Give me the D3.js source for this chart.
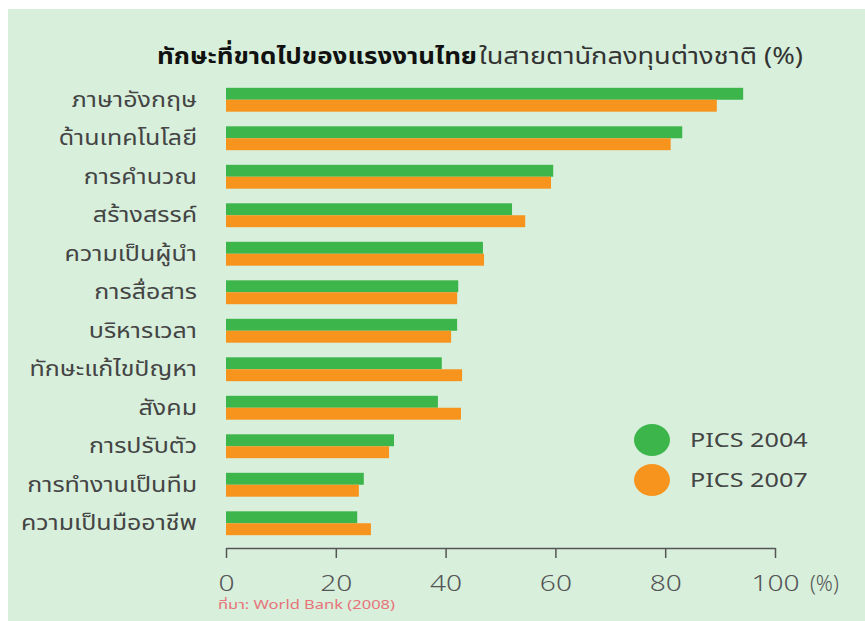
<!DOCTYPE html>
<html>
<head>
<meta charset="utf-8">
<script src="https://cdn.jsdelivr.net/npm/d3@7"></script>
<style>
  body { margin: 0; background: #fff; }
  text { font-family: "Noto Sans Thai", "Noto Sans", "DejaVu Sans", sans-serif; }
</style>
</head>
<body>
<div id="chart"></div>
<script>
const skills = ["ภาษาอังกฤษ", "ด้านเทคโนโลยี", "การคำนวณ", "สร้างสรรค์", "ความเป็นผู้นำ",
  "การสื่อสาร", "บริหารเวลา", "ทักษะแก้ไขปัญหา", "สังคม", "การปรับตัว",
  "การทำงานเป็นทีม", "ความเป็นมืออาชีพ"];
const pics2004 = [94.2, 83.1, 59.6, 52.1, 46.8, 42.3, 42.1, 39.3, 38.6, 30.6, 25.1, 23.9];
const pics2007 = [89.4, 81.0, 59.2, 54.5, 47.0, 42.1, 41.0, 43.0, 42.8, 29.7, 24.2, 26.4];
const seriesNames = ["PICS 2004", "PICS 2007"];
const colors = ["#3cb54a", "#f7941d"];
const xTicks = [0, 20, 40, 60, 80, 100];

const W = 865, H = 621;

const svg = d3.select("#chart")
  .append("svg")
    .attr("width", W)
    .attr("height", H);

// background panel
svg.append("rect")
  .attr("x", 8)
  .attr("y", 9)
  .attr("width", W - 8)
  .attr("height", H - 9)
  .attr("fill", "#d7efdb");

// title (the original font is wide, so stretch to its width)
svg.append("text")
  .attr("x", 157)
  .attr("y", 64)
  .attr("font-size", 23)
  .attr("font-weight", "bold")
  .attr("fill", "#111")
  .attr("textLength", 320)
  .attr("lengthAdjust", "spacingAndGlyphs")
  .text("ทักษะที่ขาดไปของแรงงานไทย");
svg.append("text")
  .attr("x", 479)
  .attr("y", 64)
  .attr("font-size", 23)
  .attr("fill", "#333")
  .attr("textLength", 324)
  .attr("lengthAdjust", "spacingAndGlyphs")
  .text("ในสายตานักลงทุนต่างชาติ (%)");

const x = d3.scaleLinear()
  .domain([0, 100])
  .range([226, 775]);

const y = d3.scaleBand()
  .domain(skills)
  .range([80.5, 542.5])
  .paddingInner(0.38)
  .paddingOuter(0.19);

const y2 = d3.scaleBand()
  .domain([0, 1])
  .range([0, y.bandwidth()]);

// bars
const rows = svg.selectAll("g.row")
  .data(skills)
  .enter()
  .append("g")
    .attr("class", "row")
    .attr("transform", d => "translate(0," + y(d) + ")");

rows.selectAll("rect")
  .data((d, i) => [pics2004[i], pics2007[i]])
  .enter()
  .append("rect")
    .attr("x", x(0))
    .attr("y", (d, j) => y2(j))
    .attr("width", d => x(d) - x(0))
    .attr("height", y2.bandwidth())
    .attr("fill", (d, j) => colors[j]);

// category labels
svg.selectAll("text.cat")
  .data(skills)
  .enter()
  .append("text")
    .attr("class", "cat")
    .attr("transform", d => "translate(197," + (y(d) + y.bandwidth() / 2) + ") scale(1.22,1)")
    .attr("dy", "0.35em")
    .attr("text-anchor", "end")
    .attr("font-size", 20.5)
    .attr("fill", "#444")
    .text(d => d);

// x axis
const axis = svg.append("g")
  .attr("transform", "translate(0,548)")
  .call(d3.axisBottom(x).tickValues(xTicks).tickSize(10).tickSizeOuter(0).tickPadding(0));
axis.select(".domain").attr("stroke", "#555").attr("stroke-width", 1.5);
axis.selectAll(".tick line").attr("stroke", "#555").attr("stroke-width", 1.5);
axis.selectAll(".tick text")
  .attr("y", null)
  .attr("dy", null)
  .attr("transform", "translate(0,43) scale(1.28,1)")
  .attr("font-size", 22)
  .attr("fill", "#555")
  .style("font-family", "'Noto Sans', sans-serif")
  .style("font-weight", 300);

svg.append("text")
  .attr("transform", "translate(810,591)")
  .attr("font-size", 21)
  .attr("fill", "#555")
  .style("font-family", "'Noto Sans', sans-serif")
  .style("font-weight", 300)
  .text("(%)");

// source
svg.append("text")
  .attr("x", 218)
  .attr("y", 609)
  .attr("font-size", 12)
  .attr("fill", "#e8737a")
  .attr("textLength", 177)
  .attr("lengthAdjust", "spacingAndGlyphs")
  .text("ที่มา: World Bank (2008)");

// legend
const legend = svg.selectAll("g.leg")
  .data(seriesNames)
  .enter()
  .append("g")
    .attr("class", "leg")
    .attr("transform", (d, i) => "translate(652," + (440 + i * 40) + ")");

legend.append("ellipse")
  .attr("rx", 18)
  .attr("ry", 16)
  .attr("fill", (d, i) => colors[i]);

legend.append("text")
  .attr("transform", "translate(38,0) scale(1.23,1)")
  .attr("dy", "0.35em")
  .attr("font-size", 20.5)
  .attr("fill", "#444")
  .style("font-family", "'Noto Sans', sans-serif")
  .text(d => d);
</script>
</body>
</html>
